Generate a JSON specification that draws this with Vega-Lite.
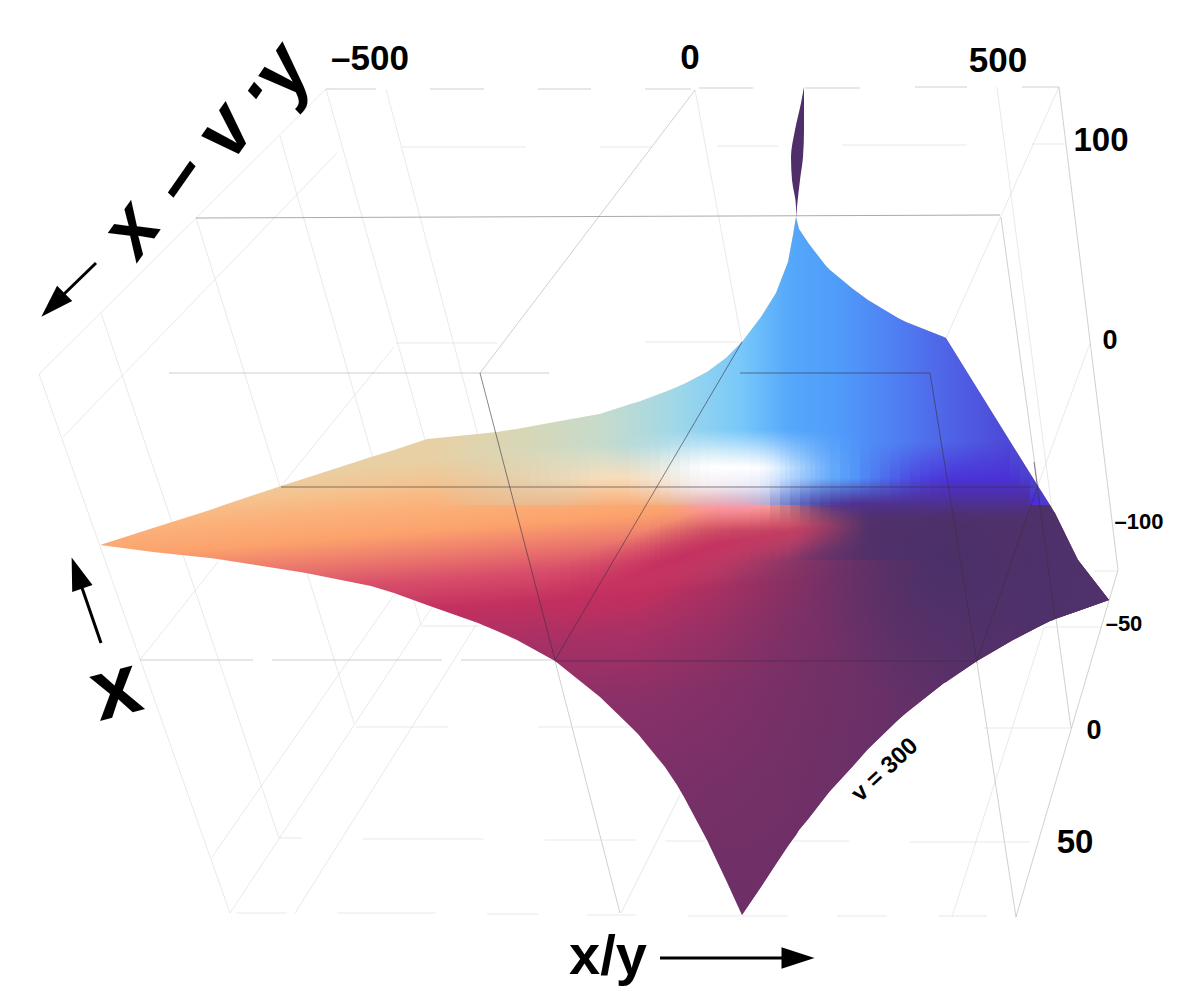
{"$schema":"https://vega.github.io/schema/vega-lite/v6.json","width":1200,"height":1006,"autosize":{"type":"fit","contains":"padding"},"padding":0,"background":"#ffffff","config":{"view":{"stroke":null}},
"datasets":{
"surface":[{"x":100,"top":545,"bottom":545,"mid":505},{"x":153,"top":528,"bottom":552,"mid":505},{"x":210,"top":510,"bottom":558,"mid":505},{"x":224,"top":505,"bottom":560,"mid":505},{"x":230,"top":503,"bottom":561,"mid":505},{"x":281,"top":486,"bottom":569,"mid":505},{"x":306,"top":478,"bottom":573,"mid":505},{"x":371,"top":457,"bottom":586,"mid":505},{"x":394,"top":450,"bottom":593,"mid":505},{"x":427,"top":439,"bottom":605,"mid":505},{"x":478,"top":434,"bottom":623,"mid":505},{"x":497,"top":432,"bottom":631,"mid":505},{"x":517,"top":429,"bottom":640,"mid":505},{"x":555,"top":422,"bottom":661,"mid":505},{"x":600,"top":414,"bottom":697,"mid":505},{"x":631,"top":404,"bottom":727,"mid":505},{"x":638,"top":402,"bottom":734,"mid":505,"mid2":560},{"x":665,"top":392,"bottom":767,"mid":505,"mid2":560},{"x":677,"top":387,"bottom":785,"mid":505,"mid2":560},{"x":684,"top":384,"bottom":797,"mid":505,"mid2":560},{"x":707,"top":372,"bottom":840,"mid":505,"mid2":560},{"x":726,"top":358,"bottom":880,"mid":505,"mid2":560},{"x":742,"top":342,"bottom":915,"mid":505,"mid2":560},{"x":761,"top":317,"bottom":887,"mid":505,"mid2":560},{"x":776,"top":293,"bottom":864,"mid":505,"mid2":560},{"x":788,"top":262,"bottom":846,"mid":505,"mid2":560},{"x":793,"top":235,"bottom":839,"mid":505,"mid2":560},{"x":796,"top":217,"bottom":835,"mid":505,"mid2":560},{"x":799,"top":229,"bottom":830,"mid":505,"mid2":560},{"x":809,"top":244,"bottom":818,"mid":505,"mid2":560},{"x":826,"top":266,"bottom":796,"mid":505,"mid2":560},{"x":830,"top":270,"bottom":791,"mid":505,"mid2":560},{"x":853,"top":289,"bottom":766,"mid":505,"mid2":560},{"x":868,"top":300,"bottom":749,"mid":505,"mid2":560},{"x":898,"top":318,"bottom":720,"mid":505,"mid2":560},{"x":906,"top":322,"bottom":713,"mid":505,"mid2":560},{"x":944,"top":337,"bottom":683,"mid":505,"mid2":560},{"x":946,"top":338,"bottom":682,"mid":505,"mid2":560},{"x":977,"top":388,"bottom":661,"mid":505,"mid2":560},{"x":1013,"top":446,"bottom":640,"mid":505,"mid2":560},{"x":1038,"top":486,"bottom":627,"mid":505,"mid2":560},{"x":1050,"top":505,"bottom":621,"mid":505,"mid2":560},{"x":1053,"top":510,"bottom":620,"mid":510,"mid2":560},{"x":1055,"top":513,"bottom":619,"mid":513,"mid2":560},{"x":1078,"top":560,"bottom":611,"mid":560,"mid2":560},{"x":1109,"top":600,"bottom":600,"mid":600,"mid2":600}],
"spike":[{"y":87,"xl":804,"xr":804},{"y":103,"xl":801,"xr":804},{"y":130,"xl":795,"xr":804},{"y":157,"xl":791,"xr":803},{"y":180,"xl":792,"xr":800},{"y":207,"xl":796,"xr":797},{"y":218,"xl":796,"xr":796}],
"warm":[{"x":480,"x2":490,"a":0.05},{"x":490,"x2":500,"a":0.1},{"x":500,"x2":510,"a":0.15},{"x":510,"x2":520,"a":0.2},{"x":520,"x2":530,"a":0.28},{"x":530,"x2":540,"a":0.36},{"x":540,"x2":550,"a":0.44},{"x":550,"x2":560,"a":0.52},{"x":560,"x2":570,"a":0.6},{"x":570,"x2":580,"a":0.7},{"x":580,"x2":590,"a":0.8},{"x":590,"x2":600,"a":0.9},{"x":600,"x2":610,"a":0.95},{"x":610,"x2":620,"a":0.98},{"x":620,"x2":630,"a":0.96},{"x":630,"x2":640,"a":0.94},{"x":640,"x2":650,"a":0.92},{"x":650,"x2":660,"a":0.9},{"x":660,"x2":670,"a":0.86},{"x":670,"x2":680,"a":0.82},{"x":680,"x2":690,"a":0.78},{"x":690,"x2":700,"a":0.72},{"x":700,"x2":710,"a":0.65},{"x":710,"x2":720,"a":0.58},{"x":720,"x2":730,"a":0.5},{"x":730,"x2":740,"a":0.42},{"x":740,"x2":750,"a":0.34},{"x":750,"x2":760,"a":0.25},{"x":760,"x2":770,"a":0.16},{"x":770,"x2":780,"a":0.08}],
"indigo":[{"x":860,"x2":870,"a":0.1,"top":442},{"x":870,"x2":880,"a":0.2,"top":442},{"x":880,"x2":890,"a":0.32,"top":442},{"x":890,"x2":900,"a":0.45,"top":442},{"x":900,"x2":910,"a":0.58,"top":442},{"x":910,"x2":920,"a":0.7,"top":442},{"x":920,"x2":930,"a":0.8,"top":442},{"x":930,"x2":940,"a":0.88,"top":442},{"x":940,"x2":950,"a":0.94,"top":442},{"x":950,"x2":1010,"a":1,"top":442},{"x":1010,"x2":1020,"a":1,"top":457},{"x":1020,"x2":1030,"a":1,"top":473},{"x":1030,"x2":1040,"a":1,"top":489}],
"glow":[{"x":630,"x2":640,"a":0.1},{"x":640,"x2":650,"a":0.2},{"x":650,"x2":660,"a":0.3},{"x":660,"x2":670,"a":0.45},{"x":670,"x2":680,"a":0.6},{"x":680,"x2":690,"a":0.75},{"x":690,"x2":700,"a":0.88},{"x":700,"x2":710,"a":0.96},{"x":710,"x2":720,"a":1},{"x":720,"x2":730,"a":1},{"x":730,"x2":740,"a":1},{"x":740,"x2":750,"a":1},{"x":750,"x2":760,"a":0.98},{"x":760,"x2":765,"a":0.94},{"x":765,"x2":770,"a":0.9},{"x":770,"x2":775,"a":0.85},{"x":775,"x2":780,"a":0.79},{"x":780,"x2":785,"a":0.72},{"x":785,"x2":790,"a":0.65},{"x":790,"x2":795,"a":0.58},{"x":795,"x2":800,"a":0.52},{"x":800,"x2":805,"a":0.45},{"x":805,"x2":810,"a":0.39},{"x":810,"x2":815,"a":0.33},{"x":815,"x2":820,"a":0.27},{"x":820,"x2":825,"a":0.22},{"x":825,"x2":830,"a":0.18},{"x":830,"x2":840,"a":0.12},{"x":840,"x2":850,"a":0.06},{"x":850,"x2":860,"a":0.02}],
"fade":[{"x":640,"x2":650,"a":0},{"x":650,"x2":660,"a":0.04},{"x":660,"x2":670,"a":0.08},{"x":670,"x2":680,"a":0.11},{"x":680,"x2":690,"a":0.15},{"x":690,"x2":700,"a":0.19},{"x":700,"x2":710,"a":0.22},{"x":710,"x2":720,"a":0.26},{"x":720,"x2":730,"a":0.3},{"x":730,"x2":740,"a":0.36},{"x":740,"x2":750,"a":0.41},{"x":750,"x2":760,"a":0.47},{"x":760,"x2":770,"a":0.52},{"x":770,"x2":780,"a":0.58},{"x":780,"x2":790,"a":0.64},{"x":790,"x2":800,"a":0.69},{"x":800,"x2":810,"a":0.75},{"x":810,"x2":820,"a":0.77},{"x":820,"x2":830,"a":0.79},{"x":830,"x2":840,"a":0.81},{"x":840,"x2":850,"a":0.83},{"x":850,"x2":860,"a":0.85},{"x":860,"x2":870,"a":0.87},{"x":870,"x2":880,"a":0.89},{"x":880,"x2":890,"a":0.91},{"x":890,"x2":900,"a":0.93},{"x":900,"x2":910,"a":0.95},{"x":910,"x2":920,"a":0.96},{"x":920,"x2":930,"a":0.97},{"x":930,"x2":940,"a":0.97},{"x":940,"x2":950,"a":0.98},{"x":950,"x2":960,"a":0.98},{"x":960,"x2":970,"a":0.99},{"x":970,"x2":980,"a":0.99},{"x":980,"x2":1040,"a":1}],
"crimson":[{"x":540,"x2":550,"a":0.05,"top":567,"bottom":647},{"x":550,"x2":560,"a":0.15,"top":563,"bottom":643},{"x":560,"x2":570,"a":0.25,"top":560,"bottom":640},{"x":570,"x2":580,"a":0.35,"top":556,"bottom":636},{"x":580,"x2":590,"a":0.42,"top":552,"bottom":632},{"x":590,"x2":600,"a":0.5,"top":549,"bottom":629},{"x":600,"x2":605,"a":0.55,"top":545,"bottom":625},{"x":605,"x2":610,"a":0.57,"top":543,"bottom":623},{"x":610,"x2":615,"a":0.6,"top":542,"bottom":622},{"x":615,"x2":620,"a":0.63,"top":540,"bottom":620},{"x":620,"x2":625,"a":0.68,"top":538,"bottom":618},{"x":625,"x2":630,"a":0.71,"top":536,"bottom":616},{"x":630,"x2":635,"a":0.74,"top":535,"bottom":615},{"x":635,"x2":640,"a":0.77,"top":533,"bottom":613},{"x":640,"x2":645,"a":0.79,"top":531,"bottom":611},{"x":645,"x2":650,"a":0.81,"top":529,"bottom":609},{"x":650,"x2":655,"a":0.84,"top":528,"bottom":608},{"x":655,"x2":660,"a":0.86,"top":526,"bottom":606},{"x":660,"x2":665,"a":0.88,"top":524,"bottom":604},{"x":665,"x2":670,"a":0.89,"top":522,"bottom":602},{"x":670,"x2":675,"a":0.9,"top":521,"bottom":601},{"x":675,"x2":680,"a":0.9,"top":519,"bottom":599},{"x":680,"x2":685,"a":0.9,"top":517,"bottom":597},{"x":685,"x2":690,"a":0.9,"top":515,"bottom":595},{"x":690,"x2":695,"a":0.9,"top":514,"bottom":594},{"x":695,"x2":700,"a":0.9,"top":512,"bottom":592},{"x":700,"x2":705,"a":0.9,"top":510,"bottom":590},{"x":705,"x2":710,"a":0.89,"top":508,"bottom":588},{"x":710,"x2":715,"a":0.88,"top":507,"bottom":587},{"x":715,"x2":720,"a":0.87,"top":505,"bottom":585},{"x":720,"x2":730,"a":0.85,"top":505,"bottom":583},{"x":730,"x2":740,"a":0.82,"top":505,"bottom":578},{"x":740,"x2":750,"a":0.78,"top":505,"bottom":575},{"x":750,"x2":760,"a":0.75,"top":505,"bottom":572},{"x":760,"x2":770,"a":0.72,"top":505,"bottom":568},{"x":770,"x2":780,"a":0.7,"top":505,"bottom":565},{"x":780,"x2":790,"a":0.65,"top":505,"bottom":562},{"x":790,"x2":800,"a":0.6,"top":505,"bottom":558},{"x":800,"x2":810,"a":0.55,"top":505,"bottom":555},{"x":810,"x2":820,"a":0.5,"top":505,"bottom":552},{"x":820,"x2":830,"a":0.45,"top":505,"bottom":550},{"x":830,"x2":840,"a":0.35,"top":505,"bottom":550},{"x":840,"x2":850,"a":0.2,"top":505,"bottom":550},{"x":850,"x2":860,"a":0.1,"top":505,"bottom":550}],
"pink":[{"x":660,"x2":670,"a":0.1},{"x":670,"x2":680,"a":0.25},{"x":680,"x2":690,"a":0.4},{"x":690,"x2":700,"a":0.6},{"x":700,"x2":710,"a":0.8},{"x":710,"x2":720,"a":0.9},{"x":720,"x2":730,"a":1},{"x":730,"x2":740,"a":1},{"x":740,"x2":750,"a":1},{"x":750,"x2":760,"a":0.9},{"x":760,"x2":770,"a":0.75},{"x":770,"x2":780,"a":0.6},{"x":780,"x2":790,"a":0.45},{"x":790,"x2":800,"a":0.3},{"x":800,"x2":810,"a":0.2},{"x":810,"x2":820,"a":0.1},{"x":820,"x2":830,"a":0.05}],
"blob":[{"x":770,"x2":780,"a":0.15},{"x":780,"x2":790,"a":0.3},{"x":790,"x2":800,"a":0.45},{"x":800,"x2":810,"a":0.6},{"x":810,"x2":820,"a":0.72},{"x":820,"x2":830,"a":0.82},{"x":830,"x2":840,"a":0.9},{"x":840,"x2":850,"a":0.95},{"x":850,"x2":1030,"a":1}],
"segs":[
{"x":326,"y":89,"x2":39,"y2":374,"t":"faint"},{"x":337,"y":153,"x2":63,"y2":437,"t":"faint"},{"x":39,"y":374,"x2":230,"y2":913,"t":"faint"},{"x":101,"y":313,"x2":279,"y2":838,"t":"faint"},{"x":196,"y":218,"x2":354,"y2":723,"t":"faint"},{"x":280,"y":136,"x2":421,"y2":625,"t":"faint"},{"x":326,"y":89,"x2":425,"y2":440,"t":"faint"},{"x":386,"y":89,"x2":478,"y2":435,"t":"faint"},{"x":230,"y":913,"x2":432,"y2":607,"t":"faint"},{"x":212,"y":857,"x2":394,"y2":595,"t":"faint"},{"x":295,"y":913,"x2":476,"y2":625,"t":"faint"},{"x":140,"y":660,"x2":218,"y2":562,"t":"faint"},{"x":281,"y":486,"x2":394,"y2":347,"t":"faint"},{"x":695,"y":90,"x2":742,"y2":342,"t":"faint"},{"x":1059,"y":87,"x2":946,"y2":338,"t":"faint"},{"x":997,"y":87,"x2":1052,"y2":510,"t":"faint"},{"x":1044,"y":628,"x2":952,"y2":917,"t":"faint"},{"x":680,"y":795,"x2":621,"y2":913,"t":"faint"},
{"x":1090,"y":343,"x2":1038,"y2":485,"t":"faint"},{"x":555,"y":661,"x2":620,"y2":913,"t":"mid"},{"x":1118,"y":570,"x2":1016,"y2":917,"t":"mid"},{"x":1059,"y":87,"x2":1118,"y2":570,"t":"mid"},{"x":1001,"y":217,"x2":1071,"y2":728,"t":"mid"},{"x":977,"y":663,"x2":1016,"y2":917,"t":"mid"},{"x":480,"y":373,"x2":695,"y2":90,"t":"mid"},{"x":196,"y":218,"x2":1000,"y2":215,"t":"dark"},{"x":140,"y":660,"x2":253,"y2":660,"t":"mid"},{"x":272,"y":660,"x2":442,"y2":660,"t":"mid"},{"x":461,"y":660,"x2":555,"y2":660,"t":"mid"},{"x":169,"y":373,"x2":549,"y2":373,"t":"mid"},
{"x":326,"y":89,"x2":376,"y2":89,"t":"mid"},{"x":430,"y":89,"x2":484,"y2":89,"t":"mid"},{"x":538,"y":89,"x2":591,"y2":89,"t":"mid"},{"x":645,"y":89,"x2":691,"y2":89,"t":"mid"},{"x":699,"y":88,"x2":753,"y2":88,"t":"mid"},{"x":805,"y":88,"x2":860,"y2":88,"t":"mid"},{"x":915,"y":87,"x2":967,"y2":87,"t":"mid"},{"x":1022,"y":87,"x2":1059,"y2":87,"t":"mid"},
{"x":402,"y":147,"x2":526,"y2":147,"t":"faint"},{"x":600,"y":147,"x2":652,"y2":147,"t":"faint"},{"x":717,"y":146,"x2":778,"y2":146,"t":"faint"},{"x":842,"y":145,"x2":967,"y2":145,"t":"faint"},{"x":1032,"y":144,"x2":1066,"y2":144,"t":"faint"},{"x":396,"y":343,"x2":497,"y2":343,"t":"faint"},{"x":645,"y":342,"x2":742,"y2":342,"t":"faint"},
{"x":1071,"y":728,"x2":983,"y2":728,"t":"faint"},{"x":1030,"y":842,"x2":910,"y2":842,"t":"faint"},{"x":849,"y":841,"x2":791,"y2":841,"t":"faint"},{"x":705,"y":841,"x2":665,"y2":841,"t":"faint"},{"x":1094,"y":571,"x2":1118,"y2":571,"t":"faint"},{"x":1101,"y":627,"x2":1044,"y2":627,"t":"faint"},{"x":421,"y":626,"x2":490,"y2":626,"t":"faint"},{"x":356,"y":727,"x2":448,"y2":727,"t":"faint"},{"x":538,"y":727,"x2":631,"y2":727,"t":"faint"},{"x":279,"y":838,"x2":302,"y2":838,"t":"faint"},{"x":363,"y":839,"x2":484,"y2":839,"t":"faint"},{"x":545,"y":840,"x2":636,"y2":840,"t":"faint"},
{"x":236,"y":913,"x2":287,"y2":913,"t":"faint"},{"x":337,"y":913,"x2":436,"y2":913,"t":"faint"},{"x":487,"y":914,"x2":538,"y2":914,"t":"faint"},{"x":587,"y":915,"x2":636,"y2":915,"t":"faint"},{"x":688,"y":916,"x2":788,"y2":916,"t":"faint"},{"x":837,"y":916,"x2":887,"y2":916,"t":"faint"},{"x":939,"y":916,"x2":987,"y2":916,"t":"faint"}],
"front":[{"x":281,"y":487,"x2":1035,"y2":487},{"x":555,"y":661,"x2":975,"y2":661},{"x":555,"y":660,"x2":742,"y2":342},{"x":480,"y":373,"x2":555,"y2":660},{"x":930,"y":373,"x2":977,"y2":663},{"x":1038,"y":485,"x2":977,"y2":661},{"x":740,"y":373,"x2":930,"y2":373},{"x":1034,"y":462,"x2":1055,"y2":618}]
},
"layer":[
{"data":{"name":"segs"},"mark":{"type":"rule","strokeWidth":0.6},"encoding":{"x":{"field":"x","type":"quantitative","scale":{"domain":[0,1200],"nice":false,"zero":false},"axis":null},"y":{"field":"y","type":"quantitative","scale":{"domain":[1006,0],"nice":false,"zero":false},"axis":null},"x2":{"field":"x2"},"y2":{"field":"y2"},"color":{"field":"t","type":"nominal","legend":null,"scale":{"domain":["faint","mid","dark"],"range":["#dadada","#b0b0b0","#707070"]}}}},
{"data":{"name":"spike"},"mark":{"type":"area","orient":"horizontal","interpolate":"monotone","color":"#4f2e6a","opacity":1},"encoding":{"y":{"field":"y","type":"quantitative","axis":null},"x":{"field":"xl","type":"quantitative","axis":null},"x2":{"field":"xr"}}},
{"data":{"name":"surface"},"mark":{"type":"area","orient":"vertical","opacity":1,"color":{"gradient":"linear","x1":0.45,"y1":0,"x2":0.565,"y2":1,"stops":[{"offset":0,"color":"#e7d3a8"},{"offset":0.33,"color":"#e8d0a4"},{"offset":0.36,"color":"#f3c592"},{"offset":0.39,"color":"#fbb37c"},{"offset":0.43,"color":"#fca26c"},{"offset":0.464,"color":"#ec7a6c"},{"offset":0.499,"color":"#d84e6a"},{"offset":0.542,"color":"#c2305f"},{"offset":0.598,"color":"#a83065"},{"offset":0.683,"color":"#8c3068"},{"offset":0.824,"color":"#7a3068"},{"offset":1,"color":"#6d2f66"}]}},"encoding":{"x":{"field":"x","type":"quantitative","axis":null},"y":{"field":"top","type":"quantitative","axis":null},"y2":{"field":"bottom"}}},
{"data":{"name":"surface"},"transform":[{"filter":"datum.x>=224 && datum.x<=1050"}],"mark":{"type":"area","orient":"vertical","opacity":1,"color":{"gradient":"linear","x1":0,"y1":0,"x2":1,"y2":0,"stops":[{"offset":0.25,"color":"rgba(190,225,215,0)"},{"offset":0.334,"color":"rgba(190,225,210,0.3)"},{"offset":0.455,"color":"rgba(180,225,225,0.65)"},{"offset":0.552,"color":"rgba(150,215,240,0.92)"},{"offset":0.625,"color":"rgba(120,200,250,1)"},{"offset":0.685,"color":"#55a8fb"},{"offset":0.746,"color":"#4f9bfa"},{"offset":0.818,"color":"#4f7df2"},{"offset":0.879,"color":"#4f62e6"},{"offset":0.94,"color":"#4d4cd8"},{"offset":1,"color":"#4b38c8"}]}},"encoding":{"x":{"field":"x","type":"quantitative","axis":null},"y":{"field":"top","type":"quantitative","axis":null},"y2":{"field":"mid"}}},
{"data":{"name":"indigo"},"mark":{"type":"rect","color":{"gradient":"linear","x1":0,"y1":0,"x2":0,"y2":1,"stops":[{"offset":0,"color":"rgba(74,45,215,0)"},{"offset":0.6,"color":"rgba(74,45,215,0.9)"},{"offset":1,"color":"rgba(74,45,215,1)"}]}},"encoding":{"x":{"field":"x","type":"quantitative","axis":null},"x2":{"field":"x2"},"y":{"field":"top","type":"quantitative","axis":null},"y2":{"datum":505},"opacity":{"field":"a","type":"quantitative","scale":null,"legend":null}}},
{"data":{"name":"warm"},"mark":{"type":"rect","color":{"gradient":"linear","x1":0,"y1":0,"x2":0,"y2":1,"stops":[{"offset":0,"color":"rgba(250,235,210,0)"},{"offset":0.55,"color":"rgba(251,222,185,0.95)"},{"offset":1,"color":"rgba(251,173,118,1)"}]}},"encoding":{"x":{"field":"x","type":"quantitative","axis":null},"x2":{"field":"x2"},"y":{"datum":445,"type":"quantitative","axis":null},"y2":{"datum":505},"opacity":{"field":"a","type":"quantitative","scale":null,"legend":null}}},
{"data":{"name":"glow"},"mark":{"type":"rect","color":{"gradient":"linear","x1":0,"y1":0,"x2":0,"y2":1,"stops":[{"offset":0,"color":"rgba(255,255,255,0)"},{"offset":0.3,"color":"rgba(255,255,255,0.6)"},{"offset":0.5,"color":"rgba(255,255,255,1)"},{"offset":0.75,"color":"rgba(255,245,252,0.8)"},{"offset":1,"color":"rgba(255,230,245,0)"}]}},"encoding":{"x":{"field":"x","type":"quantitative","axis":null},"x2":{"field":"x2"},"y":{"datum":430,"type":"quantitative","axis":null},"y2":{"datum":505},"opacity":{"field":"a","type":"quantitative","scale":null,"legend":null}}},
{"data":{"name":"surface"},"transform":[{"filter":"datum.x>=638"}],"mark":{"type":"area","orient":"vertical","opacity":1,"color":{"gradient":"linear","x1":0,"y1":0,"x2":1,"y2":0,"stops":[{"offset":0,"color":"rgba(110,48,102,0)"},{"offset":0.17,"color":"rgba(110,48,102,0.3)"},{"offset":0.34,"color":"rgba(110,48,102,0.75)"},{"offset":0.554,"color":"rgba(100,48,104,0.95)"},{"offset":0.725,"color":"#58306a"},{"offset":1,"color":"#50316b"}]}},"encoding":{"x":{"field":"x","type":"quantitative","axis":null},"y":{"field":"mid2","type":"quantitative","axis":null},"y2":{"field":"bottom"}}},
{"data":{"name":"fade"},"mark":{"type":"rect","color":{"gradient":"linear","x1":0,"y1":0,"x2":0,"y2":1,"stops":[{"offset":0,"color":"rgba(105,48,103,0)"},{"offset":1,"color":"rgba(105,48,103,1)"}]}},"encoding":{"x":{"field":"x","type":"quantitative","axis":null},"x2":{"field":"x2"},"y":{"datum":505,"type":"quantitative","axis":null},"y2":{"datum":560},"opacity":{"field":"a","type":"quantitative","scale":null,"legend":null}}},
{"data":{"values":[{"x":790,"x2":1040}]},"mark":{"type":"rect","color":{"gradient":"linear","x1":0,"y1":0,"x2":1,"y2":0,"stops":[{"offset":0,"color":"rgba(88,48,106,0)"},{"offset":0.32,"color":"rgba(88,48,106,1)"},{"offset":1,"color":"rgba(88,48,106,1)"}]}},"encoding":{"x":{"field":"x","type":"quantitative","axis":null},"x2":{"field":"x2"},"y":{"datum":505,"type":"quantitative","axis":null},"y2":{"datum":560}}},
{"data":{"name":"surface"},"transform":[{"filter":"datum.x>=1013"}],"mark":{"type":"area","orient":"vertical","opacity":1,"color":{"gradient":"linear","x1":0,"y1":0,"x2":1,"y2":0,"stops":[{"offset":0,"color":"rgba(80,49,107,0)"},{"offset":0.2,"color":"rgba(80,49,107,1)"},{"offset":1,"color":"rgba(80,49,107,1)"}]}},"encoding":{"x":{"field":"x","type":"quantitative","axis":null},"y":{"field":"mid","type":"quantitative","axis":null},"y2":{"field":"bottom"}}},
{"data":{"name":"crimson"},"mark":{"type":"rect","color":{"gradient":"linear","x1":0,"y1":0,"x2":0,"y2":1,"stops":[{"offset":0,"color":"rgba(195,45,95,0)"},{"offset":0.5,"color":"rgba(195,45,95,1)"},{"offset":1,"color":"rgba(195,45,95,0)"}]}},"encoding":{"x":{"field":"x","type":"quantitative","axis":null},"x2":{"field":"x2"},"y":{"field":"top","type":"quantitative","axis":null},"y2":{"field":"bottom"},"opacity":{"field":"a","type":"quantitative","scale":null,"legend":null}}},
{"data":{"name":"surface"},"transform":[{"filter":"datum.x>=555"}],"mark":{"type":"area","orient":"vertical","opacity":1,"color":{"gradient":"radial","x1":0.713,"y1":0.229,"r1":0,"x2":0.713,"y2":0.229,"r2":0.27,"stops":[{"offset":0,"color":"rgba(74,48,104,1)"},{"offset":1,"color":"rgba(74,48,104,0)"}]}},"encoding":{"x":{"field":"x","type":"quantitative","axis":null},"y":{"field":"mid","type":"quantitative","axis":null},"y2":{"field":"bottom"}}},
{"data":{"name":"pink"},"mark":{"type":"rect","color":{"gradient":"linear","x1":0,"y1":0,"x2":0,"y2":1,"stops":[{"offset":0,"color":"rgba(255,200,225,0)"},{"offset":0.5,"color":"rgba(250,150,180,0.8)"},{"offset":1,"color":"rgba(245,110,140,0)"}]}},"encoding":{"x":{"field":"x","type":"quantitative","axis":null},"x2":{"field":"x2"},"y":{"datum":485,"type":"quantitative","axis":null},"y2":{"datum":530},"opacity":{"field":"a","type":"quantitative","scale":null,"legend":null}}},
{"data":{"name":"blob"},"mark":{"type":"rect","color":{"gradient":"linear","x1":0,"y1":0,"x2":0,"y2":1,"stops":[{"offset":0,"color":"rgba(79,48,150,0)"},{"offset":0.55,"color":"rgba(79,48,144,1)"},{"offset":1,"color":"rgba(78,48,110,0)"}]}},"encoding":{"x":{"field":"x","type":"quantitative","axis":null},"x2":{"field":"x2"},"y":{"datum":478,"type":"quantitative","axis":null},"y2":{"datum":525},"opacity":{"field":"a","type":"quantitative","scale":null,"legend":null}}},
{"data":{"name":"front"},"mark":{"type":"rule","strokeWidth":0.6,"color":"#3a3040"},"encoding":{"x":{"field":"x","type":"quantitative","axis":null},"y":{"field":"y","type":"quantitative","axis":null},"x2":{"field":"x2"},"y2":{"field":"y2"}}},
{"data":{"values":[{"x":96,"y":263,"x2":62,"y2":296},{"x":101,"y":643,"x2":80,"y2":582},{"x":660,"y":958,"x2":785,"y2":958}]},"mark":{"type":"rule","strokeWidth":3,"color":"#000000"},"encoding":{"x":{"field":"x","type":"quantitative","axis":null},"y":{"field":"y","type":"quantitative","axis":null},"x2":{"field":"x2"},"y2":{"field":"y2"}}},
{"data":{"values":[{"x":53,"y":305,"heading":225},{"x":77,"y":573,"heading":341},{"x":798,"y":958,"heading":90}]},"mark":{"type":"point","shape":"M0,-1L0.65,1L-0.65,1Z","filled":true,"size":1089,"color":"#000000","opacity":1},"encoding":{"x":{"field":"x","type":"quantitative","axis":null},"y":{"field":"y","type":"quantitative","axis":null},"angle":{"field":"heading","type":"quantitative","scale":{"domain":[0,360],"range":[0,360]}}}},
{"data":{"values":[{"label":"–500","x":370,"y":59},{"label":"0","x":690,"y":58},{"label":"500","x":998,"y":61}]},"mark":{"type":"text","font":"Liberation Sans","fontWeight":"bold","fontSize":35,"color":"#000000"},"encoding":{"x":{"field":"x","type":"quantitative","axis":null},"y":{"field":"y","type":"quantitative","axis":null},"text":{"field":"label"}}},
{"data":{"values":[{"label":"100","x":1101,"y":141},{"label":"50","x":1075,"y":843}]},"mark":{"type":"text","font":"Liberation Sans","fontWeight":"bold","fontSize":33,"color":"#000000"},"encoding":{"x":{"field":"x","type":"quantitative","axis":null},"y":{"field":"y","type":"quantitative","axis":null},"text":{"field":"label"}}},
{"data":{"values":[{"label":"0","x":1110,"y":341},{"label":"0","x":1094,"y":731}]},"mark":{"type":"text","font":"Liberation Sans","fontWeight":"bold","fontSize":27,"color":"#000000"},"encoding":{"x":{"field":"x","type":"quantitative","axis":null},"y":{"field":"y","type":"quantitative","axis":null},"text":{"field":"label"}}},
{"data":{"values":[{"label":"–100","x":1139,"y":522},{"label":"–50","x":1124,"y":624}]},"mark":{"type":"text","font":"Liberation Sans","fontWeight":"bold","fontSize":22,"color":"#000000"},"encoding":{"x":{"field":"x","type":"quantitative","axis":null},"y":{"field":"y","type":"quantitative","axis":null},"text":{"field":"label"}}},
{"data":{"values":[{"label":"v = 300","x":885,"y":770}]},"mark":{"type":"text","font":"Liberation Sans","fontWeight":"bold","fontSize":24,"angle":317,"color":"#000000"},"encoding":{"x":{"field":"x","type":"quantitative","axis":null},"y":{"field":"y","type":"quantitative","axis":null},"text":{"field":"label"}}},
{"data":{"values":[{"label":"x/y","x":608,"y":974}]},"mark":{"type":"text","font":"Liberation Sans","fontWeight":"bold","fontSize":56,"baseline":"alphabetic","color":"#000000"},"encoding":{"x":{"field":"x","type":"quantitative","axis":null},"y":{"field":"y","type":"quantitative","axis":null},"text":{"field":"label"}}},
{"data":{"values":[{"label":"x","x":132,"y":230},{"label":"–","x":180,"y":178},{"label":"v","x":226,"y":132},{"label":"·","x":257,"y":93},{"label":"y","x":283,"y":72}]},"mark":{"type":"text","font":"Liberation Sans","fontWeight":"bold","fontStyle":"italic","fontSize":78,"angle":305,"color":"#000000"},"encoding":{"x":{"field":"x","type":"quantitative","axis":null},"y":{"field":"y","type":"quantitative","axis":null},"text":{"field":"label"}}},
{"data":{"values":[{"label":"x","x":116,"y":690}]},"mark":{"type":"text","font":"Liberation Sans","fontWeight":"bold","fontSize":86,"angle":345,"color":"#000000"},"encoding":{"x":{"field":"x","type":"quantitative","axis":null},"y":{"field":"y","type":"quantitative","axis":null},"text":{"field":"label"}}}
]}
